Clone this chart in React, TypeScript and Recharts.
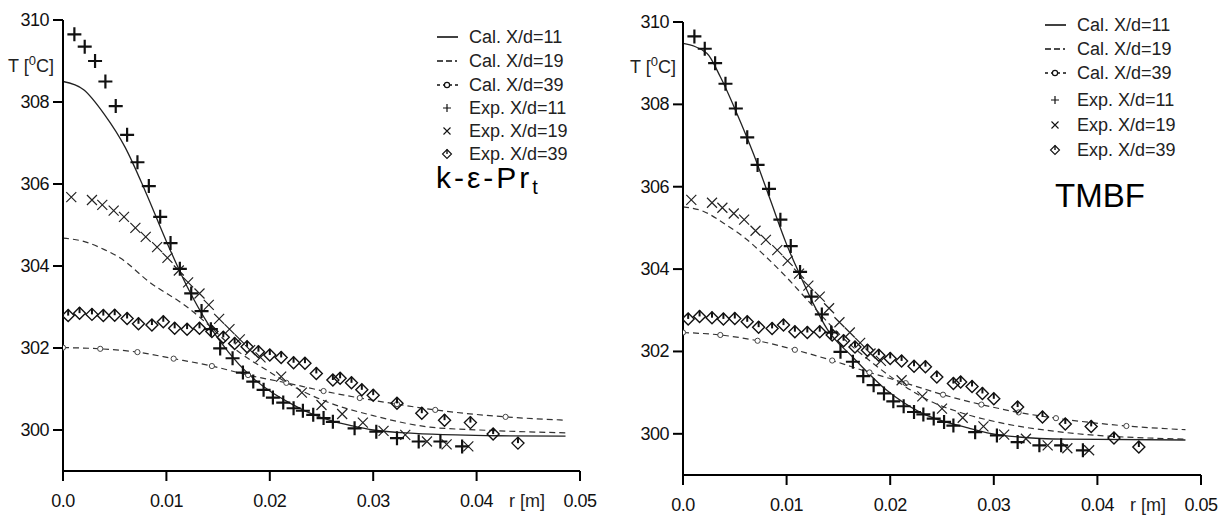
import React from 'react';
import { ComposedChart, Line, Scatter, XAxis, YAxis } from 'recharts';

// measured points (same in both panels)
const expR11 = [0.0011, 0.0021, 0.0031, 0.0041, 0.0051, 0.0062, 0.0072, 0.0083, 0.0094, 0.0104, 0.0113, 0.0124, 0.0134, 0.0143, 0.0152, 0.0164, 0.0174, 0.0184, 0.0194, 0.0203, 0.0213, 0.0223, 0.0232, 0.0242, 0.0252, 0.0261, 0.0282, 0.0303, 0.0323, 0.0344, 0.0365, 0.0386];
const expT11 = [309.65, 309.35, 309.0, 308.5, 307.9, 307.2, 306.53, 305.95, 305.2, 304.56, 303.93, 303.33, 302.9, 302.46, 301.99, 301.75, 301.4, 301.18, 300.98, 300.79, 300.67, 300.53, 300.47, 300.37, 300.29, 300.2, 300.04, 299.96, 299.8, 299.72, 299.72, 299.6];

const expR19 = [0.0008, 0.0028, 0.0038, 0.0049, 0.0059, 0.007, 0.008, 0.0091, 0.0101, 0.0112, 0.0121, 0.0132, 0.0141, 0.0151, 0.0161, 0.0171, 0.0181, 0.0191, 0.0211, 0.0231, 0.025, 0.027, 0.029, 0.031, 0.0331, 0.0352, 0.0371, 0.0392];
const expT19 = [305.68, 305.61, 305.49, 305.35, 305.2, 304.93, 304.71, 304.46, 304.2, 303.89, 303.6, 303.33, 303.05, 302.71, 302.46, 302.21, 301.95, 301.77, 301.3, 300.91, 300.61, 300.39, 300.18, 299.98, 299.88, 299.72, 299.65, 299.6];

const expR39 = [0.0005, 0.0016, 0.0028, 0.0039, 0.005, 0.0062, 0.0073, 0.0086, 0.0097, 0.0108, 0.012, 0.0132, 0.0144, 0.0155, 0.0166, 0.0178, 0.0189, 0.02, 0.0211, 0.0223, 0.0234, 0.0245, 0.0261, 0.0268, 0.0279, 0.0289, 0.03, 0.0323, 0.0347, 0.0369, 0.0394, 0.0416, 0.044];
const expT39 = [302.79, 302.85, 302.82, 302.79, 302.8, 302.72, 302.59, 302.56, 302.64, 302.48, 302.46, 302.48, 302.4, 302.26, 302.11, 302.03, 301.91, 301.83, 301.77, 301.64, 301.63, 301.38, 301.22, 301.26, 301.15, 300.98, 300.85, 300.65, 300.41, 300.24, 300.18, 299.9, 299.68];

// k-eps-Prt calculation
const kR11 = [0, 0.002, 0.004, 0.006, 0.008, 0.01, 0.012, 0.014, 0.016, 0.018, 0.02, 0.022, 0.024, 0.026, 0.028, 0.03, 0.034, 0.038, 0.042, 0.0486];
const kT11 = [308.5, 308.3, 307.7, 306.9, 305.8, 304.6, 303.5, 302.6, 301.9, 301.35, 300.95, 300.65, 300.4, 300.22, 300.1, 300.0, 299.92, 299.88, 299.86, 299.85];
const kR19 = [0, 0.002, 0.004, 0.0055, 0.0084, 0.012, 0.0139, 0.0165, 0.0197, 0.0229, 0.0258, 0.03, 0.0355, 0.0403, 0.0486];
const kT19 = [304.68, 304.6, 304.4, 304.2, 303.6, 303.0, 302.6, 302.0, 301.46, 300.98, 300.66, 300.35, 300.07, 300.0, 299.93];
const kR39 = [0, 0.0036, 0.0072, 0.0107, 0.0144, 0.0179, 0.0216, 0.0252, 0.0287, 0.0323, 0.036, 0.0428, 0.0486];
const kT39 = [302.01, 301.98, 301.9, 301.74, 301.56, 301.34, 301.15, 300.95, 300.78, 300.63, 300.49, 300.32, 300.24];

// TMBF calculation
const tR11 = [0, 0.0023, 0.0036, 0.0052, 0.0068, 0.0084, 0.01, 0.0113, 0.0126, 0.0139, 0.0164, 0.0197, 0.0229, 0.0274, 0.0306, 0.037, 0.0485];
const tT11 = [309.48, 309.24, 308.67, 307.78, 306.8, 305.7, 304.6, 303.85, 303.15, 302.55, 301.86, 301.05, 300.52, 300.15, 299.97, 299.87, 299.85];
const tR19 = [0, 0.002, 0.004, 0.006, 0.008, 0.01, 0.012, 0.014, 0.016, 0.018, 0.021, 0.024, 0.027, 0.0306, 0.037, 0.0485];
const tT19 = [305.51, 305.4, 305.1, 304.75, 304.3, 303.8, 303.25, 302.7, 302.2, 301.78, 301.22, 300.78, 300.5, 300.27, 300.03, 299.87];
const tR39 = [0, 0.0036, 0.0072, 0.0108, 0.0144, 0.018, 0.0215, 0.0251, 0.0288, 0.0324, 0.036, 0.0428, 0.0485];
const tT39 = [302.46, 302.4, 302.26, 302.04, 301.78, 301.49, 301.23, 300.95, 300.71, 300.52, 300.38, 300.19, 300.1];

const xTicks = [0, 0.01, 0.02, 0.03, 0.04, 0.05];
const yTicks = [300, 302, 304, 306, 308, 310];
const legendLabels = ['Cal. X/d=11', 'Cal. X/d=19', 'Cal. X/d=39', 'Exp. X/d=11', 'Exp. X/d=19', 'Exp. X/d=39'];

const zip = (rs: number[], ts: number[]) => rs.map((r, i) => ({ r, T: ts[i] }));

const FONT = '"Liberation Sans", Arial, sans-serif';
const INK = '#111';

const PlusMark = (p: any) => (
  <path d={`M${p.cx - 7},${p.cy}h14M${p.cx},${p.cy - 7}v14`} stroke={INK} strokeWidth={2.2} fill="none" />
);
const CrossMark = (p: any) => (
  <path d={`M${p.cx - 5},${p.cy - 5}L${p.cx + 5},${p.cy + 5}M${p.cx + 5},${p.cy - 5}L${p.cx - 5},${p.cy + 5}`} stroke="#222" strokeWidth={1.2} fill="none" />
);
const DiamondMark = (p: any) => (
  <g>
    <path d={`M${p.cx},${p.cy - 6}L${p.cx + 6},${p.cy}L${p.cx},${p.cy + 6}L${p.cx - 6},${p.cy}Z`} stroke={INK} strokeWidth={1.4} fill="none" />
    <path d={`M${p.cx},${p.cy}V${p.cy - 6}`} stroke={INK} strokeWidth={2} />
  </g>
);
const CircleMark = (p: any) => <circle cx={p.cx} cy={p.cy} r={2.6} fill="#fff" stroke="#444" strokeWidth={1} />;

const XTick = (p: any) => {
  const v = p.payload.value;
  return (
    <text x={p.x} y={p.y + 24} textAnchor="middle" fontFamily={FONT} fontSize={18} letterSpacing={-0.5} fill={INK}>
      {v === 0 ? '0.0' : String(v)}
    </text>
  );
};
const YTick = (p: any) => (
  <text x={p.x} y={p.y + 6} textAnchor="end" fontFamily={FONT} fontSize={18} letterSpacing={-0.5} fill={INK}>
    {p.payload.value}
  </text>
);

type PanelProps = {
  left: number;
  margin: { top: number; right: number; bottom: number; left: number };
  xAxisHeight: number;
  cal11: { r: number; T: number }[];
  cal19: { r: number; T: number }[];
  cal39: { r: number; T: number }[];
  legendX: number;
  legendRows: number[];
  title: React.ReactNode;
  tLabel: { x: number; y: number };
  rLabel: { x: number; y: number };
};

function LegendSymbol({ i, x0, y }: { i: number; x0: number; y: number }) {
  const cx = x0 + 10;
  if (i === 0) return <path d={`M${x0},${y}h21`} stroke={INK} strokeWidth={1.6} />;
  if (i === 1) return <path d={`M${x0},${y}h21`} stroke={INK} strokeWidth={1.6} strokeDasharray="6 3 6 3 2 10" />;
  if (i === 2)
    return (
      <g>
        <path d={`M${x0},${y}h21`} stroke={INK} strokeWidth={1.4} strokeDasharray="3 3" />
        <circle cx={cx} cy={y} r={2.6} fill="#fff" stroke={INK} strokeWidth={1.2} />
      </g>
    );
  if (i === 3) return <path d={`M${cx - 4},${y}h8M${cx},${y - 4}v8`} stroke={INK} strokeWidth={1.2} />;
  if (i === 4) return <path d={`M${cx - 3.5},${y - 3.5}l7,7M${cx + 3.5},${y - 3.5}l-7,7`} stroke={INK} strokeWidth={1.1} />;
  return (
    <g>
      <path d={`M${cx},${y - 4.5}l4.5,4.5l-4.5,4.5l-4.5,-4.5Z`} stroke={INK} strokeWidth={1.1} fill="none" />
      <path d={`M${cx},${y}v-4.5`} stroke={INK} strokeWidth={1.4} />
    </g>
  );
}

function Panel(props: PanelProps) {
  const { left, margin, xAxisHeight, cal11, cal19, cal39, legendX, legendRows, title, tLabel, rLabel } = props;
  const circles = cal39.slice(0, -1);
  return (
    <div style={{ position: 'absolute', left, top: 0, width: 615, height: 515 }}>
      <ComposedChart width={615} height={515} margin={margin}>
        <XAxis
          type="number"
          dataKey="r"
          domain={[0, 0.05]}
          ticks={xTicks}
          allowDataOverflow
          height={xAxisHeight}
          tickSize={10}
          axisLine={{ stroke: '#000', strokeWidth: 2 }}
          tickLine={{ stroke: '#000', strokeWidth: 2 }}
          tick={XTick}
        />
        <YAxis
          type="number"
          dataKey="T"
          domain={[299, 310]}
          ticks={yTicks}
          allowDataOverflow
          width={55}
          tickSize={10}
          tickMargin={4}
          axisLine={{ stroke: '#000', strokeWidth: 2 }}
          tickLine={{ stroke: '#000', strokeWidth: 2 }}
          tick={YTick}
        />
        <Line data={cal11} dataKey="T" type="monotone" stroke="#222" strokeWidth={1.3} dot={false} isAnimationActive={false} />
        <Line data={cal19} dataKey="T" type="monotone" stroke="#333" strokeWidth={1.2} strokeDasharray="6 4" dot={false} isAnimationActive={false} />
        <Line data={cal39} dataKey="T" type="monotone" stroke="#333" strokeWidth={1.2} strokeDasharray="6 4" dot={false} isAnimationActive={false} />
        <Scatter data={circles} dataKey="T" shape={CircleMark} isAnimationActive={false} />
        <Scatter data={zip(expR39, expT39)} dataKey="T" shape={DiamondMark} isAnimationActive={false} />
        <Scatter data={zip(expR19, expT19)} dataKey="T" shape={CrossMark} isAnimationActive={false} />
        <Scatter data={zip(expR11, expT11)} dataKey="T" shape={PlusMark} isAnimationActive={false} />
      </ComposedChart>
      <svg width={615} height={515} style={{ position: 'absolute', left: 0, top: 0, pointerEvents: 'none' }}>
        <text x={tLabel.x} y={tLabel.y} fontFamily={FONT} fontSize={18} fill="#222">
          T [<tspan fontSize={13} dy={-7}>0</tspan>
          <tspan dy={7}>C]</tspan>
        </text>
        <text x={rLabel.x} y={rLabel.y} fontFamily={FONT} fontSize={18} fill="#222">
          r [m]
        </text>
        {legendLabels.map((lab, i) => (
          <g key={lab}>
            <LegendSymbol i={i} x0={legendX} y={legendRows[i]} />
            <text x={legendX + 32} y={legendRows[i] + 6} fontFamily={FONT} fontSize={18} fill="#222">
              {lab}
            </text>
          </g>
        ))}
        {title}
      </svg>
    </div>
  );
}

export default function App() {
  return (
    <div style={{ position: 'absolute', left: 0, top: 0, width: 1230, height: 515, background: '#fff' }}>
      <Panel
        left={0}
        margin={{ top: 20, right: 35, bottom: 0, left: 8 }}
        xAxisHeight={44}
        cal11={zip(kR11, kT11)}
        cal19={zip(kR19, kT19)}
        cal39={zip(kR39, kT39)}
        legendX={437}
        legendRows={[37, 61, 85, 108, 131, 154]}
        tLabel={{ x: 8, y: 72 }}
        rLabel={{ x: 509, y: 507 }}
        title={
          <text x={436} y={188} fontFamily={FONT} fontSize={30} letterSpacing={3} fill="#000">
            k-ε-Pr<tspan fontSize={20} dy={6}>t</tspan>
          </text>
        }
      />
      <Panel
        left={615}
        margin={{ top: 22, right: 29, bottom: 0, left: 13 }}
        xAxisHeight={40}
        cal11={zip(tR11, tT11)}
        cal19={zip(tR19, tT19)}
        cal39={zip(tR39, tT39)}
        legendX={430}
        legendRows={[25, 49, 73, 100, 125, 150]}
        tLabel={{ x: 15, y: 73 }}
        rLabel={{ x: 515, y: 511 }}
        title={
          <text x={440} y={207} fontFamily={FONT} fontSize={33} fill="#000">
            TMBF
          </text>
        }
      />
    </div>
  );
}
